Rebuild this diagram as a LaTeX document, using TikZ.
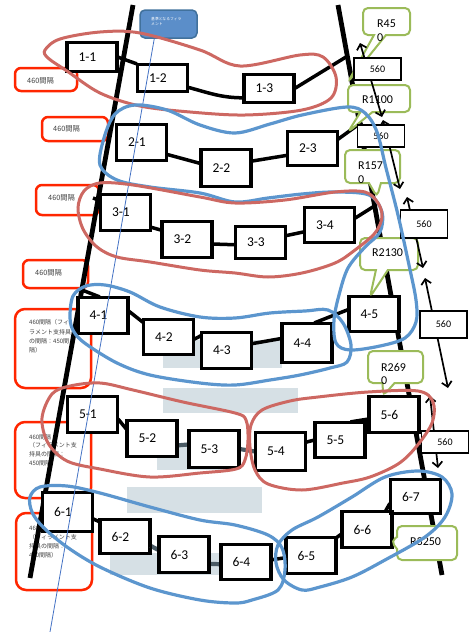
\documentclass[tikz,border=0pt]{standalone}
\usepackage{fontspec}
\setmainfont{Carlito}
\newfontfamily\jpfont{Noto Sans CJK JP}
\usepackage{tikz}
\usetikzlibrary{
    arrows.meta,
    shapes,
    shapes.callouts,
    calc
}
\definecolor{gapred}{RGB}{255,38,0}
\definecolor{loopred}{RGB}{205,104,98}
\definecolor{loopblue}{RGB}{92,150,206}
\definecolor{calloutgreen}{RGB}{155,187,89}
\definecolor{shadowgrey}{RGB}{214,224,229}
\definecolor{linkgrey}{RGB}{74,90,100}
\definecolor{labelblue}{RGB}{91,142,201}
\definecolor{labeledge}{RGB}{65,113,156}
\definecolor{threadblue}{RGB}{68,114,196}
\tikzset{
    chainbox/.style={draw, line width=2.2pt, fill=white, inner xsep=11pt, inner ysep=0pt,
        text width=27pt, align=left, minimum height=35pt, font=\fontsize{13.5}{15}\selectfont},
    link/.style={line width=3.5pt},
    greylink/.style={line width=4.2pt, draw=linkgrey},
    sideline/.style={line width=4.8pt},
    gapbox/.style={draw=gapred, line width=2.5pt, rounded corners=6pt, fill=white, inner sep=0pt},
    gaptext/.style={inner sep=0pt, text=black!75, anchor=west, font=\jpfont\fontsize{7.3}{8}\selectfont},
    notetext/.style={inner sep=0pt, text=black!75, align=left, anchor=north west},
    sizebox/.style={draw, line width=1.8pt, fill=white, minimum width=47pt, minimum height=22pt,
        inner sep=0pt, font=\fontsize{10}{12}\selectfont},
    bendnote/.style={rectangle callout, draw=calloutgreen, line width=2pt, fill=white,
        rounded corners=5pt, inner sep=0pt, callout pointer width=12pt},
    bendtext/.style={inner sep=0pt, align=left, font=\fontsize{12}{13.5}\selectfont},
    spanarrow/.style={{Straight Barb[length=5pt, width=10pt]}-{Straight Barb[length=5pt, width=10pt]}, line width=1.7pt},
    redloop/.style={draw=loopred, line width=3pt},
    blueloop/.style={draw=loopblue, line width=3.2pt},
    refline/.style={draw=threadblue, line width=0.8pt}
}
\begin{document}
\begin{tikzpicture}[x=1pt, y=-1pt]
\useasboundingbox (0,0) rectangle (470,632);

% shadows left behind
\fill[shadowgrey] (163,340) rectangle (282,368);
\fill[shadowgrey] (163,388) rectangle (298,413);
\fill[shadowgrey] (157,445) rectangle (240,470);
\fill[shadowgrey] (127,487) rectangle (262,513);
\fill[shadowgrey] (110,553) rectangle (222,575);

% spacing notes
\node[gapbox, minimum width=62pt, minimum height=23pt] (gap1) at (46,79.5) {};
\node[gaptext] (gap1t) at (27,81) {460間隔};
\node[gapbox, minimum width=66pt, minimum height=24pt] (gap2) at (75,129) {};
\node[gaptext] (gap2t) at (53,129) {460間隔};
\node[gapbox, minimum width=63pt, minimum height=30pt] (gap3) at (67.5,200) {};
\node[gaptext] (gap3t) at (48,198) {460間隔};
\node[gapbox, minimum width=65pt, minimum height=28pt] (gap4) at (55.5,274) {};
\node[gaptext] (gap4t) at (35,273) {460間隔};
\node[gapbox, rounded corners=10pt, minimum width=76pt, minimum height=79pt] (gap5) at (53,348.5) {};
\node[notetext, font=\jpfont\fontsize{6}{9.3}\selectfont] (gap5t) at (29,319.5)
    {460間隔（フィ\\ラメント支持具\\の間隔：450間\\隔）};
\node[gapbox, rounded corners=10pt, minimum width=76pt, minimum height=76pt] (gap6) at (53,460) {};
\node[notetext, font=\jpfont\fontsize{6}{8.8}\selectfont] (gap6t) at (29,434)
    {460間隔\\（フィラメント支\\持具の間隔：\\450間隔）};
\node[gapbox, rounded corners=10pt, minimum width=76pt, minimum height=77pt] (gap7) at (54,551.5) {};
\node[notetext, font=\jpfont\fontsize{6}{9.3}\selectfont] (gap7t) at (29,525)
    {460間隔\\（フィラメント支\\持具の間隔：\\450間隔）};

% filament lines
\coordinate (lt) at (133,5);
\coordinate (lb) at (30,578);
\coordinate (rt) at (338,5);
\coordinate (rb) at (442,575);
\draw[sideline] (lt) -- (lb);
\draw[sideline] (rt) -- (rb);
\coordinate (r1) at (346,57);
\coordinate (r2) at (362,122);
\coordinate (l3) at (93,198);
\coordinate (r3) at (376,205);
\coordinate (l4) at (82,290);

% supports
\node[chainbox, minimum height=28pt] (n11) at (92,57) {1-1};
\node[chainbox, minimum height=26pt] (n12) at (162.5,78) {1-2};
\node[chainbox, minimum height=27pt] (n13) at (269,88.5) {1-3};
\node[chainbox] (n21) at (141.5,142.5) {2-1};
\node[chainbox, minimum height=36pt] (n22) at (226,168) {2-2};
\node[chainbox, minimum height=33pt] (n23) at (312.5,148.5) {2-3};
\node[chainbox] (n31) at (125.5,212.5) {3-1};
\node[chainbox] (n32) at (187,239.5) {3-2};
\node[chainbox, minimum height=31pt] (n33) at (260.5,242.5) {3-3};
\node[chainbox, minimum height=34pt] (n34) at (329.5,225) {3-4};
\node[chainbox] (n41) at (103,315.5) {4-1};
\node[chainbox, minimum height=34pt] (n42) at (168.5,337) {4-2};
\node[chainbox] (n43) at (226.5,350.5) {4-3};
\node[chainbox, minimum height=38pt] (n44) at (307,343) {4-4};
\node[chainbox, minimum height=34pt] (n45) at (374,314) {4-5};
\node[chainbox] (n51) at (92.5,414.5) {5-1};
\node[chainbox] (n52) at (152,438.5) {5-2};
\node[chainbox, minimum height=36pt] (n53) at (214,449) {5-3};
\node[chainbox, minimum height=37pt] (n54) at (280.5,451.5) {5-4};
\node[chainbox, minimum height=34pt] (n55) at (340,440) {5-5};
\node[chainbox] (n56) at (394,414.5) {5-6};
\node[chainbox, minimum height=38pt] (n61) at (67.5,512) {6-1};
\node[chainbox, minimum height=33pt] (n62) at (125,536.5) {6-2};
\node[chainbox] (n63) at (184,554.5) {6-3};
\node[chainbox, minimum height=34pt] (n64) at (246,562) {6-4};
\node[chainbox] (n65) at (311,555.5) {6-5};
\node[chainbox] (n66) at (367,529.5) {6-6};
\node[chainbox, minimum height=33pt] (n67) at (415.5,496.5) {6-7};

\draw[link]
    (n11.east) -- (n12.north west)
    (n12.-20) to[out=-15, in=180] (n13.200)
    (n13.east) -- (r1)
    (n21.-25) -- (n22.170)
    (n22.15) -- (n23.195)
    (n23.20) -- (r2)
    (l3) -- (n31.155)
    (n31.-30) -- (n32.160)
    (n32.-10) -- (n33.185)
    (n33.15) -- (n34.195)
    (n34.15) -- (r3)
    (l4) -- (n41.100)
    (n41.10) -- (n42.150)
    (n42.-5) -- (n43.150)
    (n43.15) -- (n44.170)
    (n44.70) -- (n45.170)
    (n51.-10) -- (n52.160)
    (n54.20) -- (n55.180)
    (n55.60) -- (n56.190)
    (n61.-15) -- (n62.150)
    (n64.5) -- (n65.185)
    (n65.35) -- (n66.190)
    (n66.45) -- (n67.195);
\draw[greylink]
    (n52.-15) -- (n53.170)
    (n53.0) -- (n54.180)
    (n62.-20) -- (n63.170)
    (n63.-20) -- (n64.185);
\foreach \n in {n11,n12,n13,n21,n22,n23,n31,n32,n33,n34,n41,n42,n43,n44,n45,
                n51,n52,n53,n54,n55,n56,n61,n62,n63,n64,n65,n66,n67}
    \draw[line width=2.2pt] (\n.north west) rectangle (\n.south east);

% reference filament
\node[draw=labeledge, fill=labelblue, line width=1.5pt, rounded corners=5pt,
    minimum width=57pt, minimum height=28pt, inner sep=0pt] (lbl) at (168.5,24) {};
\node[anchor=north west, inner sep=0pt, text=white, align=left,
    font=\jpfont\fontsize{3.8}{4.6}\selectfont] (lblt) at (151,17.5) {基準となるフィラ\\メント};
\coordinate (threadend) at (50,632);
\draw[refline] (lbl.-134) -- (threadend);

% bend radii
\node[bendnote, minimum width=47pt, minimum height=27pt, callout absolute pointer={(348,82)}] (c1) at (386.5,21.5) {};
\node[bendtext, anchor=north west] (c1t) at (377,20) {R45\\0};
\node[bendnote, minimum width=62pt, minimum height=27pt, callout absolute pointer={(348,132)}] (c2) at (379,98.5) {};
\node[bendtext, anchor=west] (c2t) at (362,100) {R1100};
\node[bendnote, minimum width=55pt, minimum height=33pt, callout absolute pointer={(377,197)}] (c3) at (372.5,166.5) {};
\node[bendtext, anchor=north west] (c3t) at (358,162) {R157\\0};
\node[bendnote, minimum width=58pt, minimum height=32pt, callout absolute pointer={(370,297)}] (c4) at (389,254) {};
\node[bendtext, anchor=west] (c4t) at (372,253) {R2130};
\node[bendnote, minimum width=55pt, minimum height=32pt, callout absolute pointer={(383,396)}] (c5) at (395.5,367) {};
\node[bendtext, anchor=north west] (c5t) at (381,363) {R269\\0};
\node[bendnote, minimum width=60pt, minimum height=34pt, callout absolute pointer={(391,541)}] (c6) at (427,543) {};
\node[bendtext, anchor=west] (c6t) at (410,542) {R3250};

% pitch between supports
\coordinate (p1) at (360,43);
\coordinate (p2) at (382,117);
\coordinate (p3) at (383,120);
\coordinate (p4) at (400,189);
\coordinate (p5) at (407,197);
\coordinate (p6) at (423,268);
\coordinate (p7) at (425,278);
\coordinate (p8) at (448,388);
\coordinate (p9) at (430,396);
\coordinate (p10) at (438,468);
\draw[spanarrow] (p1) -- (p2);
\draw[spanarrow] (p3) -- (p4);
\draw[spanarrow] (p5) -- (p6);
\draw[spanarrow] (p7) -- (p8);
\draw[spanarrow] (p9) -- (p10);
\node[sizebox] (s1) at (377.5,69) {560};
\node[sizebox] (s2) at (381,136) {560};
\node[sizebox, minimum height=28pt] (s3) at (424,224) {560};
\node[sizebox, minimum height=27pt] (s4) at (443.5,324.5) {560};
\node[sizebox] (s5) at (445,442) {560};

% groups
\draw[redloop] plot[smooth cycle, tension=0.55] coordinates {(45,50) (60,39) (100,32) (140,33) (200,50) (240,66) (300,55) (323,57) (336,77) (331,98) (302,110) (245,115) (190,112) (140,106) (100,93) (67,71) (48,58)};
\draw[blueloop] plot[smooth cycle, tension=0.55] coordinates {(100,165) (104,138) (115,114) (135,105) (167,110) (200,125) (235,133) (270,124) (302,115) (347,107) (365,113) (377,132) (386,168) (398,215) (409,265) (416,300) (416,322) (405,338) (380,346) (350,350) (336,343) (334,320) (339,295) (348,268) (365,247) (380,232) (382,212) (369,195) (335,192) (302,194) (268,198) (235,202) (200,193) (150,187) (117,180)};
\draw[redloop] plot[smooth cycle, tension=0.55] coordinates {(78,208) (84,191) (100,183) (133,185) (200,197) (235,203) (285,200) (335,192) (365,192) (378,203) (382,217) (375,233) (355,250) (335,263) (302,273) (268,277) (235,273) (200,270) (150,262) (117,257) (97,247) (83,229)};
\draw[blueloop] plot[smooth cycle, tension=0.55] coordinates {(70,318) (73,296) (86,286) (105,285) (130,292) (160,307) (200,317) (235,318) (270,313) (305,311) (328,310) (343,323) (351,345) (347,362) (330,368) (300,375) (270,380) (235,385) (200,383) (150,375) (117,363) (86,344) (74,332)};
\draw[redloop] plot[smooth cycle, tension=0.55] coordinates {(42,418) (52,394) (70,386) (100,383) (133,390) (183,402) (235,413) (246,420) (248,440) (245,460) (236,469) (200,473) (150,477) (100,469) (67,461) (48,443)};
\draw[redloop] plot[smooth cycle, tension=0.55] coordinates {(251,425) (262,410) (290,401) (318,397) (368,392) (418,391) (433,402) (432,423) (416,447) (398,464) (370,477) (343,483) (302,490) (268,484) (255,470) (250,447)};
\draw[blueloop] plot[smooth cycle, tension=0.55] coordinates {(30,497) (40,487) (67,486) (100,493) (150,507) (200,520) (235,525) (268,535) (282,548) (285,570) (278,590) (252,600) (235,603) (200,600) (150,588) (100,567) (67,547) (43,527) (32,512)};
\draw[blueloop] plot[smooth cycle, tension=0.55] coordinates {(302,590) (284,580) (276,563) (278,545) (292,530) (318,517) (352,497) (385,477) (418,471) (442,477) (452,494) (445,517) (425,537) (385,560) (352,577) (320,587)};
\end{tikzpicture}
\end{document}
